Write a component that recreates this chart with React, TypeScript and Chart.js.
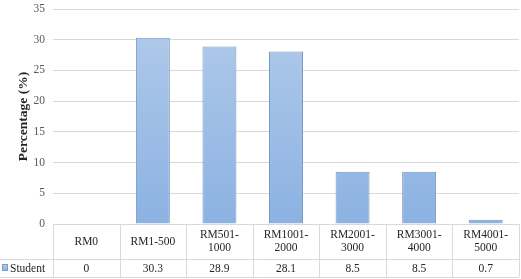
import React, { useEffect, useRef } from "react";
import { Chart, registerables } from "chart.js";

Chart.register(...registerables);

const categories = ["RM0", "RM1-500", "RM501-1000", "RM1001-2000", "RM2001-3000", "RM3001-4000", "RM4001-5000"];
const categoryLines = [["RM0"], ["RM1-500"], ["RM501-", "1000"], ["RM1001-", "2000"], ["RM2001-", "3000"], ["RM3001-", "4000"], ["RM4001-", "5000"]];
const studentValues = [0, 30.3, 28.9, 28.1, 8.5, 8.5, 0.7];
const valueLabels = ["0", "30.3", "28.9", "28.1", "8.5", "8.5", "0.7"];
const seriesName = "Student";
const yTicks = [0, 5, 10, 15, 20, 25, 30, 35];

const FONT = "'Liberation Serif', 'Times New Roman', serif";
const LINE = "#d9d9d9";
const TEXT = "#262626";

const ROW1_H = 35;
const ROW2_H = 18;

const tablePlugin = {
  id: "dataTable",
  afterDraw(chart: any) {
    const { ctx, chartArea } = chart;
    const left = chartArea.left;
    const right = chartArea.right;
    const top = chartArea.bottom;
    const mid = top + ROW1_H;
    const bottom = mid + ROW2_H;
    const n = categories.length;
    const w = (right - left) / n;
    const px = (v: number) => Math.round(v) + 0.5;

    ctx.save();
    ctx.strokeStyle = LINE;
    ctx.lineWidth = 1;
    ctx.beginPath();
    ctx.moveTo(left, px(top));
    ctx.lineTo(right, px(top));
    ctx.moveTo(0, px(mid));
    ctx.lineTo(right, px(mid));
    ctx.moveTo(0, px(bottom));
    ctx.lineTo(right, px(bottom));
    for (let k = 0; k <= n; k++) {
      const xx = px(left + k * w);
      ctx.moveTo(xx, top);
      ctx.lineTo(xx, bottom);
    }
    ctx.stroke();

    ctx.fillStyle = TEXT;
    ctx.font = `11.5px ${FONT}`;
    ctx.textAlign = "center";
    ctx.textBaseline = "middle";
    for (let i = 0; i < n; i++) {
      const cx = left + (i + 0.5) * w;
      const lines = categoryLines[i];
      const lh = 13.5;
      const startY = top + ROW1_H / 2 - ((lines.length - 1) * lh) / 2;
      lines.forEach((t, j) => ctx.fillText(t, cx, startY + j * lh));
      ctx.fillText(valueLabels[i], cx, mid + ROW2_H / 2 + 0.5);
    }

    // legend key
    const g = ctx.createLinearGradient(0, mid + 5, 0, mid + 12);
    g.addColorStop(0, "#b5cdec");
    g.addColorStop(1, "#8db3e2");
    ctx.fillStyle = g;
    ctx.fillRect(2, mid + 5, 6, 7);
    ctx.strokeStyle = "#7a9cc6";
    ctx.strokeRect(2.5, mid + 5.5, 5, 6);
    ctx.fillStyle = TEXT;
    ctx.textAlign = "left";
    ctx.fillText(seriesName, 10, mid + ROW2_H / 2 + 0.5);
    ctx.restore();
  },
};

export default function App() {
  const ref = useRef<HTMLCanvasElement | null>(null);

  useEffect(() => {
    if (!ref.current) return;
    const chart = new Chart(ref.current, {
      type: "bar",
      data: {
        labels: categories,
        datasets: [
          {
            label: seriesName,
            data: studentValues,
            backgroundColor: (c: any) => {
              const area = c.chart.chartArea;
              if (!area) return "#a3c0e6";
              const g = c.chart.ctx.createLinearGradient(0, area.top, 0, area.bottom);
              g.addColorStop(0, "#b2cbea");
              g.addColorStop(1, "#8cb2e2");
              return g;
            },
            borderColor: "#7496c2",
            borderWidth: 1,
            barPercentage: 0.51,
            categoryPercentage: 1,
          },
        ],
      },
      options: {
        animation: false,
        responsive: true,
        maintainAspectRatio: false,
        layout: { padding: { top: 9, right: 2, bottom: ROW1_H + ROW2_H + 2, left: 0 } },
        plugins: { legend: { display: false }, tooltip: { enabled: false } },
        scales: {
          x: { display: false },
          y: {
            min: 0,
            max: 35,
            afterFit: (s: any) => {
              s.width = 53;
              s.paddingTop = 0;
              s.paddingBottom = 0;
            },
            afterBuildTicks: (s: any) => {
              s.ticks = yTicks.map((v) => ({ value: v }));
            },
            ticks: {
              color: "#595959",
              font: { family: FONT, size: 11.5 },
              padding: 8,
            },
            grid: { color: LINE, drawTicks: false },
            border: { display: false },
            title: {
              display: true,
              text: "Percentage (%)",
              color: TEXT,
              font: { family: FONT, size: 13.5, weight: "bold" },
              padding: { top: 15, bottom: 0 },
            },
          },
        },
      },
      plugins: [tablePlugin],
    });
    return () => chart.destroy();
  }, []);

  return (
    <div style={{ position: "absolute", left: 0, top: 0, width: 521, height: 279, background: "#fff" }}>
      <canvas ref={ref} />
    </div>
  );
}
